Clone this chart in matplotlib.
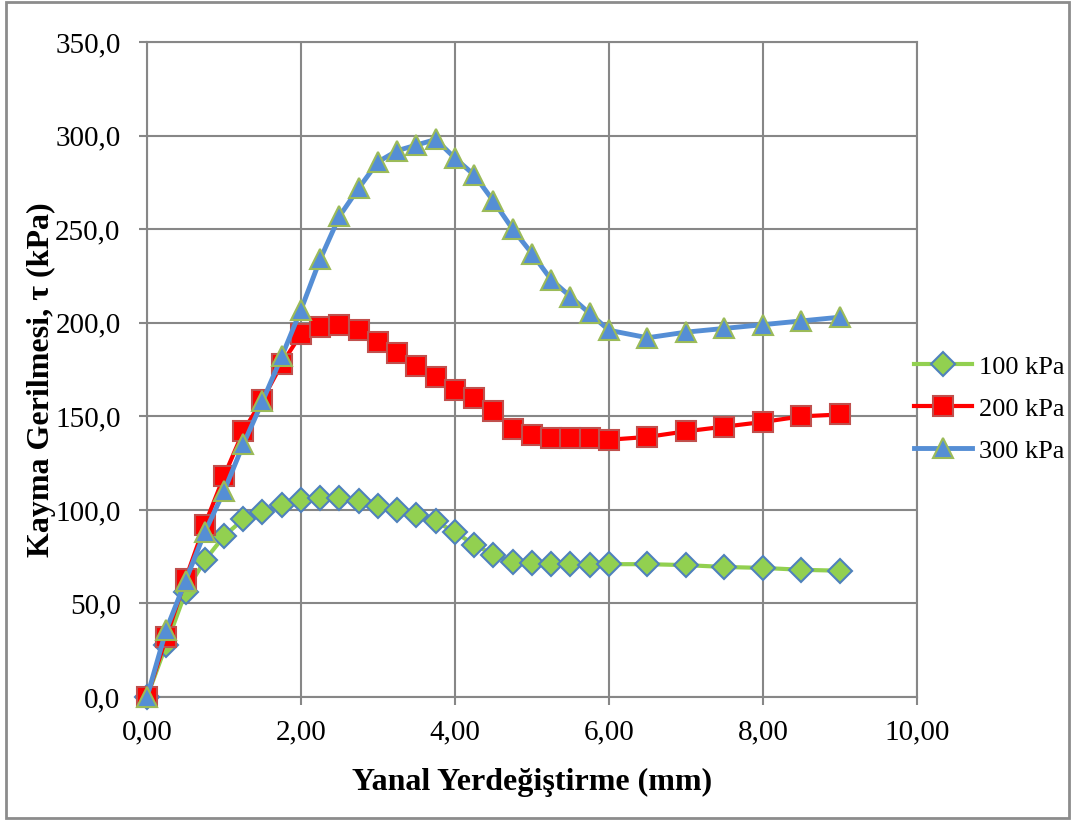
import matplotlib.pyplot as plt
from matplotlib.patches import Rectangle
from matplotlib.ticker import FuncFormatter, MultipleLocator

# yanal yerdeğiştirme (mm)
disp = [0.0, 0.25, 0.5, 0.75, 1.0, 1.25, 1.5, 1.75, 2.0, 2.25, 2.5, 2.75, 3.0, 3.25,
        3.5, 3.75, 4.0, 4.25, 4.5, 4.75, 5.0, 5.25, 5.5, 5.75, 6.0, 6.5, 7.0, 7.5,
        8.0, 8.5, 9.0]

# kayma gerilmesi (kPa)
tau_100 = [0, 28, 56, 73, 86, 95, 99, 102.5, 105.5, 106.5, 106.5, 105, 102, 100,
           97.5, 94, 88, 81.5, 76, 72, 71.5, 71, 71, 70.5, 71, 71, 70.5, 69.5,
           69, 68, 67.5]
tau_200 = [0, 32, 63, 92, 118, 142, 159, 178, 194, 198, 199, 196, 190, 184,
           177, 171, 164, 160, 153, 143, 140, 138.5, 138.5, 138.5, 137.5, 139, 142, 144.5,
           147, 150, 151]
tau_300 = [0, 36, 62, 88, 110, 135, 158, 182, 207, 234, 257, 272, 286, 292,
           295, 298, 288, 279, 265, 250, 237, 223, 214, 205, 196, 192, 195, 197,
           199, 201, 203]

labels = ['100 kPa', '200 kPa', '300 kPa']

plt.rcParams['font.family'] = ['Liberation Serif', 'DejaVu Serif']

fig = plt.figure(figsize=(10.73, 8.21), dpi=100)
ax = fig.add_axes([0.137, 0.151, 0.7176, 0.7977])

ax.plot(disp, tau_100, color='#92D050', lw=3, marker='D', ms=12.5,
        mfc='#92D050', mec='#4F81BD', mew=1.5, label=labels[0], zorder=3, clip_on=False)
ax.plot(disp, tau_200, color='#FF0000', lw=3, marker='s', ms=14.5,
        mfc='#FF0000', mec='#C0504D', mew=1.5, label=labels[1], zorder=4, clip_on=False)
ax.plot(disp, tau_300, color='#558ED5', lw=3.5, marker='^', ms=15,
        mfc='#558ED5', mec='#9BBB59', mew=1.5, label=labels[2], zorder=5, clip_on=False)

ax.set_xlim(0, 10)
ax.set_ylim(0, 350)
ax.xaxis.set_major_locator(MultipleLocator(2))
ax.yaxis.set_major_locator(MultipleLocator(50))
ax.xaxis.set_major_formatter(FuncFormatter(lambda v, p: f'{v:.2f}'.replace('.', ',')))
ax.yaxis.set_major_formatter(FuncFormatter(lambda v, p: f'{v:.1f}'.replace('.', ',')))

grid_c = '#878787'
ax.grid(True, color=grid_c, lw=1.5)
ax.set_axisbelow(True)
for s in ax.spines.values():
    s.set_color(grid_c)
    s.set_linewidth(1.5)
ax.tick_params(axis='both', direction='out', length=6, width=1.5, color=grid_c,
               labelsize=21, labelcolor='black')
ax.tick_params(axis='y', pad=13)
ax.tick_params(axis='x', pad=10)

ax.set_xlabel('Yanal Yerdeğiştirme (mm)', fontsize=23, fontweight='bold', labelpad=16)
ax.set_ylabel('Kayma Gerilmesi, τ (kPa)', fontsize=23, fontweight='bold')
ax.yaxis.set_label_coords(-0.118, 0.484)

fig.legend(loc='center left', bbox_to_anchor=(0.852, 0.502), frameon=False,
           borderaxespad=0, borderpad=0, fontsize=19, handlelength=2.2,
           handletextpad=0.25, labelspacing=0.7)

# çerçeve
fig.add_artist(Rectangle((0.006, 0.004), 0.99, 0.994, transform=fig.transFigure,
                         fill=False, ec='#8c8c8c', lw=2))

fig.savefig('out.png', dpi=100)
